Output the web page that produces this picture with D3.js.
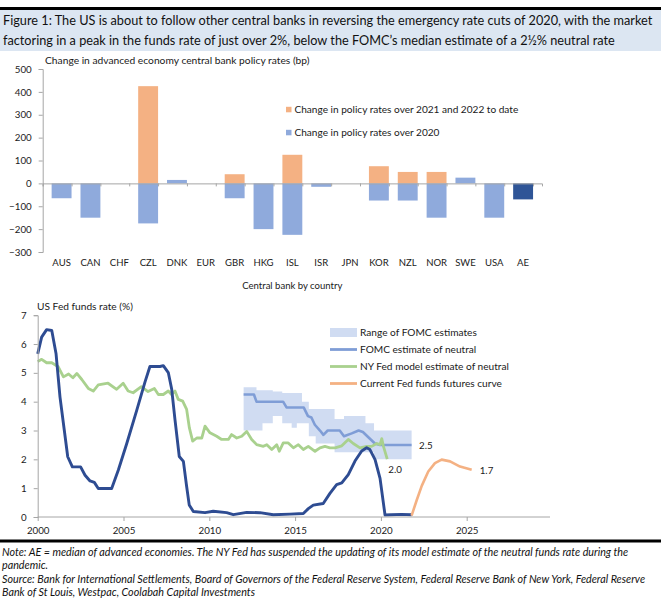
<!DOCTYPE html>
<html><head><meta charset="utf-8">
<script src="https://cdn.jsdelivr.net/npm/d3@7"></script>
<style>
html,body{margin:0;padding:0;background:#fff;}
svg{display:block;}
text{font-family:Lato,"Open Sans",sans-serif;}
</style></head>
<body>
<svg id="c" width="661" height="610"></svg>
<script>
// ---------- DATA ----------
const categories = ["AUS","CAN","CHF","CZL","DNK","EUR","GBR","HKG","ISL","ISR","JPN","KOR","NZL","NOR","SWE","USA","AE"];
const change2021_22 = [0,0,0,425,0,0,40,0,125,0,0,75,50,50,0,0,0];
const change2020 = [-65,-150,0,-175,15,0,-65,-200,-225,-15,0,-75,-75,-150,25,-150,-70];
const barTicks = [-300,-200,-100,0,100,200,300,400,500];

const fedYears = [2000.0,2000.23,2000.52,2000.82,2001.07,2001.3,2001.55,2001.75,2002.02,2002.5,2002.76,2003.05,2003.3,2003.53,2004.31,2004.7,2005.19,2005.77,2006.25,2006.54,2007.13,2007.32,2007.61,2007.81,2008.0,2008.25,2008.49,2008.68,2008.83,2009.07,2009.75,2010.23,2011.01,2011.4,2012.18,2012.95,2013.73,2014.7,2015.48,2015.77,2016.06,2016.64,2017.03,2017.42,2017.72,2018.1,2018.49,2018.88,2019.17,2019.36,2019.66,2019.95,2020.24,2020.6,2021.2,2021.79];
const fedRate = [5.66,6.24,6.5,6.47,5.66,4.16,3.01,2.09,1.74,1.74,1.45,1.25,1.2,0.99,0.99,1.63,2.55,3.7,4.68,5.22,5.22,5.25,5.01,4.43,3.38,2.1,1.93,1.06,0.42,0.19,0.15,0.2,0.15,0.08,0.16,0.15,0.08,0.1,0.12,0.29,0.41,0.47,0.82,1.12,1.18,1.47,1.94,2.29,2.4,2.34,1.99,1.34,0.07,0.08,0.09,0.08];

const nyYears = [2000.0,2000.23,2000.52,2000.82,2001.2,2001.5,2001.8,2002.05,2002.28,2002.57,2002.95,2003.24,2003.53,2004.1,2004.6,2004.98,2005.27,2005.56,2006.04,2006.43,2006.8,2007.03,2007.32,2007.61,2007.8,2008.0,2008.19,2008.45,2008.68,2008.84,2009.03,2009.27,2009.56,2009.75,2010.04,2010.43,2010.72,2011.11,2011.3,2011.6,2011.89,2012.18,2012.47,2012.76,2013.15,2013.35,2013.64,2013.93,2014.08,2014.31,2014.6,2014.9,2015.19,2015.48,2015.77,2016.16,2016.45,2016.74,2017.03,2017.33,2017.72,2018.1,2018.39,2018.78,2019.17,2019.46,2019.76,2019.95,2020.05,2020.14,2020.37];
const nyNeutral = [5.39,5.47,5.35,5.35,5.21,4.86,4.96,4.83,4.98,4.77,4.46,4.37,4.58,4.64,4.43,4.64,4.37,4.31,4.52,4.35,4.46,4.25,4.25,4.37,4.25,4.37,4.08,4.02,3.73,3.09,2.63,2.74,2.74,3.15,2.92,2.8,2.69,2.69,2.86,2.74,2.8,2.97,2.69,2.51,2.45,2.51,2.34,2.51,2.28,2.57,2.57,2.4,2.51,2.34,2.45,2.28,2.4,2.45,2.4,2.4,2.47,2.69,2.55,2.4,2.45,2.45,2.55,2.51,2.72,2.47,2.01];

const fomcYears = [2012.0,2012.6,2012.75,2014.3,2014.5,2015.5,2015.75,2015.95,2016.15,2016.45,2016.65,2016.9,2017.6,2017.85,2018.3,2018.7,2018.95,2019.3,2019.65,2019.95,2021.79];
const fomcMedian = [4.25,4.25,4.0,4.0,3.8,3.8,3.5,3.45,3.2,3.0,2.85,3.0,3.0,2.8,2.9,3.0,2.95,2.75,2.55,2.5,2.5];

const bandYears = [2012.0,2012.75,2013.1,2013.7,2014.25,2014.8,2015.1,2015.4,2015.8,2016.2,2017.3,2017.85,2019.1,2019.6,2021.79];
const bandHigh = [4.5,4.4,4.4,4.35,4.3,4.3,4.3,4.0,3.75,3.75,3.4,3.5,3.25,3.0,3.0];
const bandLow  = [3.0,3.0,3.25,3.5,3.25,3.1,3.25,3.25,2.8,2.55,2.25,2.25,2.25,2.0,2.0];

const futYears = [2021.79,2022.09,2022.38,2022.76,2023.15,2023.54,2024.03,2024.61,2025.29];
const futRate = [0.05,0.59,1.08,1.58,1.87,1.99,1.93,1.75,1.64];

const yearTicks = [2000,2005,2010,2015,2020,2025];
const rateTicks = [0,1,2,3,4,5,6,7];

// ---------- STYLE ----------
const C = {orange:"#F4B183", blue:"#8FAADC", dark:"#2F5597", navy:"#2E4C92", green:"#A9D18E",
           fomc:"#7F9DD6", band:"#D0DCF2", axis:"#A6A6A6", text:"#1a1a1a", box:"#DCE6F2"};
const svg = d3.select("#c");

function fitSize(txt, fs, target, extra){
  const t = svg.append("text").attr("font-size", fs).attr("font-style", extra||null).text(txt);
  const w = t.node().getComputedTextLength(); t.remove();
  return fs*target/w;
}

// header
svg.append("rect").attr("x",0).attr("y",7).attr("width",661).attr("height",3).attr("fill","#000");
svg.append("rect").attr("x",0).attr("y",10).attr("width",661).attr("height",41).attr("fill",C.box);
const t1 = "Figure 1: The US is about to follow other central banks in reversing the emergency rate cuts of 2020, with the market";
const t2 = "factoring in a peak in the funds rate of just over 2%, below the FOMC\u2019s median estimate of a 2\u00bd% neutral rate";
const tfs = fitSize(t1, 14, 650);
svg.append("text").attr("x",3).attr("y",25).attr("font-size",tfs).attr("fill","#111").text(t1);
svg.append("text").attr("x",3).attr("y",45).attr("font-size",tfs).attr("fill","#111").text(t2);

// ---------- TOP BAR CHART ----------
const xb = d3.scaleBand().domain(categories).range([42.7,542]).padding(0.31);
const yb = d3.scaleLinear().domain([-300,500]).range([252,69]);
const sfs = fitSize("Change in advanced economy central bank policy rates (bp)", 11, 265);
svg.append("text").attr("x",45).attr("y",63.5).attr("font-size",sfs).attr("fill",C.text)
  .text("Change in advanced economy central bank policy rates (bp)");

const rows = categories.map((c,i)=>({cat:c, a:change2021_22[i], b:change2020[i]}));
const stack = d3.stack().keys(["a","b"]).offset(d3.stackOffsetDiverging)(rows);
const gBars = svg.append("g");
stack.forEach(layer=>{
  gBars.selectAll(null).data(layer).join("rect")
    .attr("x", d=>xb(d.data.cat)).attr("width", xb.bandwidth())
    .attr("y", d=>yb(Math.max(d[0],d[1]))).attr("height", d=>Math.abs(yb(d[0])-yb(d[1])))
    .attr("fill", d=> layer.key==="a" ? C.orange : (d.data.cat==="AE" ? C.dark : C.blue));
});

const tickFsTop = fitSize("500", 10, 17);
const yAxTop = svg.append("g").attr("transform","translate(42.7,0)")
  .call(d3.axisLeft(yb).tickValues(barTicks).tickSize(4).tickPadding(7).tickFormat(d3.format("d")));
yAxTop.select(".domain").attr("stroke",C.axis);
yAxTop.selectAll(".tick line").attr("stroke",C.axis);
yAxTop.selectAll("text").attr("font-size",tickFsTop).attr("font-family","Lato,sans-serif").attr("fill",C.text);

// zero axis with boundary ticks
const bounds = d3.range(categories.length+1).map(i=>42.7 + i*xb.step());
const zeroAx = svg.append("g").attr("transform",`translate(0,${yb(0)})`)
  .call(d3.axisBottom(d3.scaleIdentity().domain([42.7,542])).tickValues(bounds).tickSize(3).tickFormat(""));
zeroAx.select(".domain").attr("stroke",C.axis);
zeroAx.selectAll(".tick line").attr("stroke",C.axis);

const catFs = fitSize("AUS", 10, 18.5);
const catAx = svg.append("g").attr("transform","translate(0,259)")
  .call(d3.axisBottom(xb).tickSize(0).tickPadding(0));
catAx.select(".domain").remove();
catAx.selectAll("text").attr("font-size",catFs).attr("font-family","Lato,sans-serif").attr("fill",C.text).attr("dy","0.71em");

svg.append("text").attr("x",292.3).attr("y",289).attr("text-anchor","middle").attr("font-size",catFs).attr("fill",C.text)
  .text("Central bank by country");

// top legend
const lfs = fitSize("Change in policy rates over 2021 and 2022 to date", 11, 224);
[[C.orange,"Change in policy rates over 2021 and 2022 to date",109.5],[C.blue,"Change in policy rates over 2020",132.5]].forEach(([col,txt,yy])=>{
  svg.append("rect").attr("x",286).attr("y",yy-2.7).attr("width",5.5).attr("height",5.5).attr("fill",col);
  svg.append("text").attr("x",294.5).attr("y",yy).attr("dy","0.35em").attr("font-size",lfs).attr("fill",C.text).text(txt);
});

// ---------- BOTTOM LINE CHART ----------
const x = d3.scaleLinear().domain([2000,2025]).range([37.7,466.7]);
const y = d3.scaleLinear().domain([0,7]).range([517,315.2]);

const bfs = fitSize("US Fed funds rate (%)", 11, 96);
svg.append("text").attr("x",37).attr("y",310).attr("font-size",bfs).attr("fill",C.text).text("US Fed funds rate (%)");

// band
const bandData = bandYears.map((yr,i)=>({yr, lo:bandLow[i], hi:bandHigh[i]}));
svg.append("path").datum(bandData)
  .attr("d", d3.area().curve(d3.curveStepAfter).x(d=>x(d.yr)).y0(d=>y(d.lo)).y1(d=>y(d.hi)))
  .attr("fill",C.band);

const line = d3.line().x(d=>x(d[0])).y(d=>y(d[1]));
function drawLine(xs, vs, col, w){
  svg.append("path").datum(xs.map((v,i)=>[v,vs[i]])).attr("d",line)
    .attr("fill","none").attr("stroke",col).attr("stroke-width",w).attr("stroke-linejoin","round").attr("stroke-linecap","butt");
}
drawLine(fomcYears, fomcMedian, C.fomc, 2.6);
drawLine(nyYears, nyNeutral, C.green, 2.8);
drawLine(fedYears, fedRate, C.navy, 2.9);
drawLine(futYears, futRate, C.orange, 2.6);

// axes
const yAx = svg.append("g").attr("transform","translate(37.7,0)")
  .call(d3.axisLeft(y).tickValues(rateTicks).tickSize(4).tickPadding(7).tickFormat(d3.format("d")));
yAx.select(".domain").attr("stroke",C.axis);
yAx.selectAll(".tick line").attr("stroke",C.axis);
yAx.selectAll("text").attr("font-size",tickFsTop).attr("font-family","Lato,sans-serif").attr("fill",C.text);

svg.append("line").attr("x1",37.7).attr("x2",550).attr("y1",517).attr("y2",517).attr("stroke",C.axis);
const xAx = svg.append("g").attr("transform","translate(0,517)")
  .call(d3.axisBottom(x).tickValues(yearTicks).tickSize(4).tickPadding(6).tickFormat(d3.format("d")));
xAx.select(".domain").remove();
xAx.selectAll(".tick line").attr("stroke",C.axis);
xAx.selectAll("text").attr("font-size",tickFsTop).attr("font-family","Lato,sans-serif").attr("fill",C.text);

// end labels
const endLbl = [[fomcYears[fomcYears.length-1], fomcMedian[fomcMedian.length-1], "2.5", 7.5, 0.6],
                [nyYears[nyYears.length-1], nyNeutral[nyNeutral.length-1], "2.0", 1, 10.5],
                [futYears[futYears.length-1], futRate[futRate.length-1], "1.7", 8, 0.8]];
endLbl.forEach(([yr,v,t,dx,dy])=>{
  svg.append("text").attr("x",x(yr)+dx).attr("y",y(v)+dy).attr("dy","0.35em").attr("font-size",tickFsTop).attr("fill",C.text).text(t);
});

// bottom legend
const blfs = fitSize("NY Fed model estimate of neutral", 11, 149);
svg.append("rect").attr("x",330).attr("y",328).attr("width",27).attr("height",9).attr("fill",C.band);
svg.append("text").attr("x",360).attr("y",332.5).attr("dy","0.35em").attr("font-size",blfs).attr("fill",C.text).text("Range of FOMC estimates");
[[C.fomc,"FOMC estimate of neutral",349.5],[C.green,"NY Fed model estimate of neutral",366.5],[C.orange,"Current Fed funds futures curve",383.5]].forEach(([col,txt,yy])=>{
  svg.append("line").attr("x1",330).attr("x2",357).attr("y1",yy).attr("y2",yy).attr("stroke",col).attr("stroke-width",2.8);
  svg.append("text").attr("x",360).attr("y",yy).attr("dy","0.35em").attr("font-size",blfs).attr("fill",C.text).text(txt);
});

// ---------- NOTES ----------
svg.append("rect").attr("x",0).attr("y",539.5).attr("width",661).attr("height",3).attr("fill","#000");
const n1 = "Note: AE = median of advanced economies. The NY Fed has suspended the updating of its model estimate of the neutral funds rate during the";
const nfs = fitSize(n1, 10, 627, "italic");
[[n1,555.5],["pandemic.",569],["Source: Bank for International Settlements, Board of Governors of the Federal Reserve System, Federal Reserve Bank of New York, Federal Reserve",582.5],["Bank of St Louis, Westpac, Coolabah Capital Investments",596]].forEach(([t,yy])=>{
  svg.append("text").attr("x",2).attr("y",yy).attr("font-size",nfs).attr("font-style","italic").attr("fill","#111").text(t);
});
</script>
</body></html>
